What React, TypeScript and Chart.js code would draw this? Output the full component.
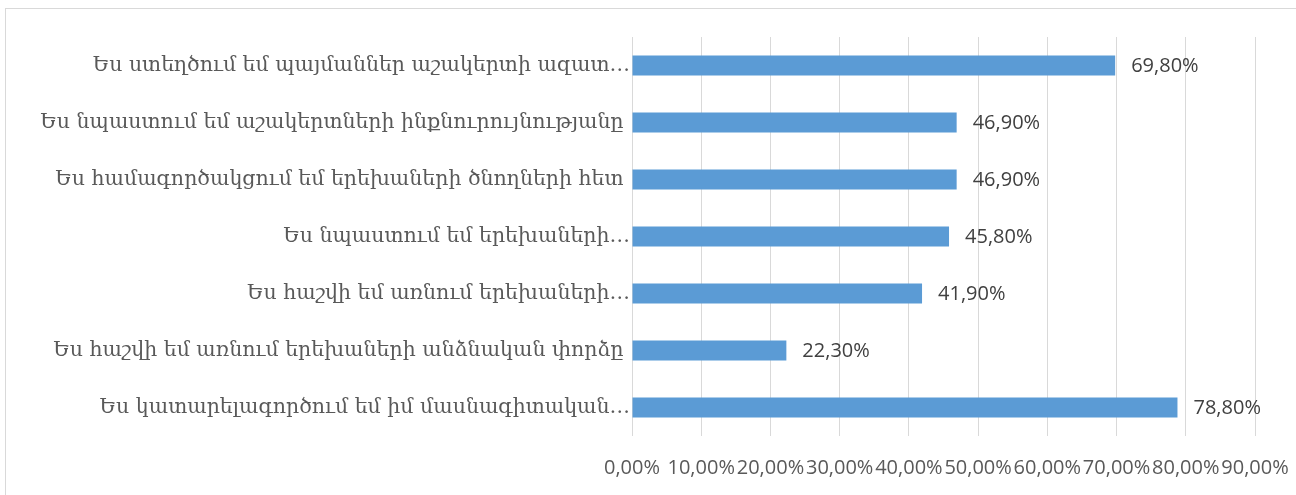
import React, { useEffect, useRef } from "react";
import { Chart, registerables } from "chart.js";

Chart.register(...registerables);

const categories: string[] = [
  "Ես ստեղծում եմ պայմաններ աշակերտի ազատ…",
  "Ես նպաստում եմ աշակերտների ինքնուրույնությանը ",
  "Ես համագործակցում եմ երեխաների ծնողների հետ ",
  "Ես նպաստում եմ երեխաների…",
  "Ես հաշվի եմ առնում երեխաների…",
  "Ես հաշվի եմ առնում երեխաների անձնական փորձը ",
  "Ես կատարելագործում եմ իմ մասնագիտական…",
];

const values: number[] = [69.8, 46.9, 46.9, 45.8, 41.9, 22.3, 78.8];

const xTickValues: number[] = [0, 10, 20, 30, 40, 50, 60, 70, 80, 90];

const fmt = (v: number) => v.toFixed(2).replace(".", ",") + "%";

const valueLabelPlugin = {
  id: "valueLabels",
  afterDatasetsDraw(chart: any) {
    const ctx = chart.ctx;
    const meta = chart.getDatasetMeta(0);
    ctx.save();
    ctx.font = '20px "Open Sans"';
    ctx.fillStyle = "#404040";
    ctx.textAlign = "left";
    ctx.textBaseline = "middle";
    meta.data.forEach((el: any, i: number) => {
      ctx.fillText(fmt(values[i]), el.x + 16, el.y + 1);
    });
    ctx.restore();
  },
};

export default function App() {
  const canvasRef = useRef<HTMLCanvasElement | null>(null);

  useEffect(() => {
    if (!canvasRef.current) return;
    const chart = new Chart(canvasRef.current, {
      type: "bar",
      data: {
        labels: categories,
        datasets: [
          {
            data: values,
            backgroundColor: "#5b9bd5",
            borderWidth: 0,
            categoryPercentage: 1,
            barPercentage: 0.35,
          },
        ],
      },
      options: {
        indexAxis: "y",
        animation: false,
        responsive: false,
        maintainAspectRatio: false,
        layout: { padding: { left: 0, right: 41, top: 37, bottom: 0 } },
        plugins: {
          legend: { display: false },
          tooltip: { enabled: false },
        },
        scales: {
          x: {
            min: 0,
            max: 90,
            afterBuildTicks: (scale: any) => {
              scale.ticks = xTickValues.map((v) => ({ value: v }));
            },
            afterFit: (scale: any) => {
              scale.height = 59;
              scale.paddingLeft = 0;
              scale.paddingRight = 0;
            },
            grid: { color: "#d9d9d9", lineWidth: 1, drawTicks: false },
            border: { display: false },
            ticks: {
              autoSkip: false,
              maxRotation: 0,
              minRotation: 0,
              padding: 20,
              color: "#595959",
              font: { family: "Open Sans", size: 20 },
              callback: (v: any) => fmt(Number(v)),
            },
          },
          y: {
            afterFit: (scale: any) => {
              scale.width = 632;
              scale.paddingTop = 0;
              scale.paddingBottom = 0;
            },
            grid: { display: false, drawTicks: false },
            border: { display: false },
            ticks: {
              padding: 2,
              color: "#595959",
              font: { family: "DejaVu Serif", size: 20.5 },
            },
          },
        },
      },
      plugins: [valueLabelPlugin],
    });
    return () => chart.destroy();
  }, []);

  return (
    <div
      style={{
        position: "absolute",
        left: 0,
        top: 0,
        width: 1296,
        height: 495,
        overflow: "hidden",
        background: "#fff",
      }}
    >
      <div
        style={{
          position: "absolute",
          left: 5,
          top: 8,
          width: 1400,
          height: 600,
          border: "1px solid #d9d9d9",
          boxSizing: "border-box",
        }}
      />
      <canvas
        ref={canvasRef}
        width={1296}
        height={495}
        style={{ position: "absolute", left: 0, top: 0, width: 1296, height: 495 }}
      />
    </div>
  );
}
